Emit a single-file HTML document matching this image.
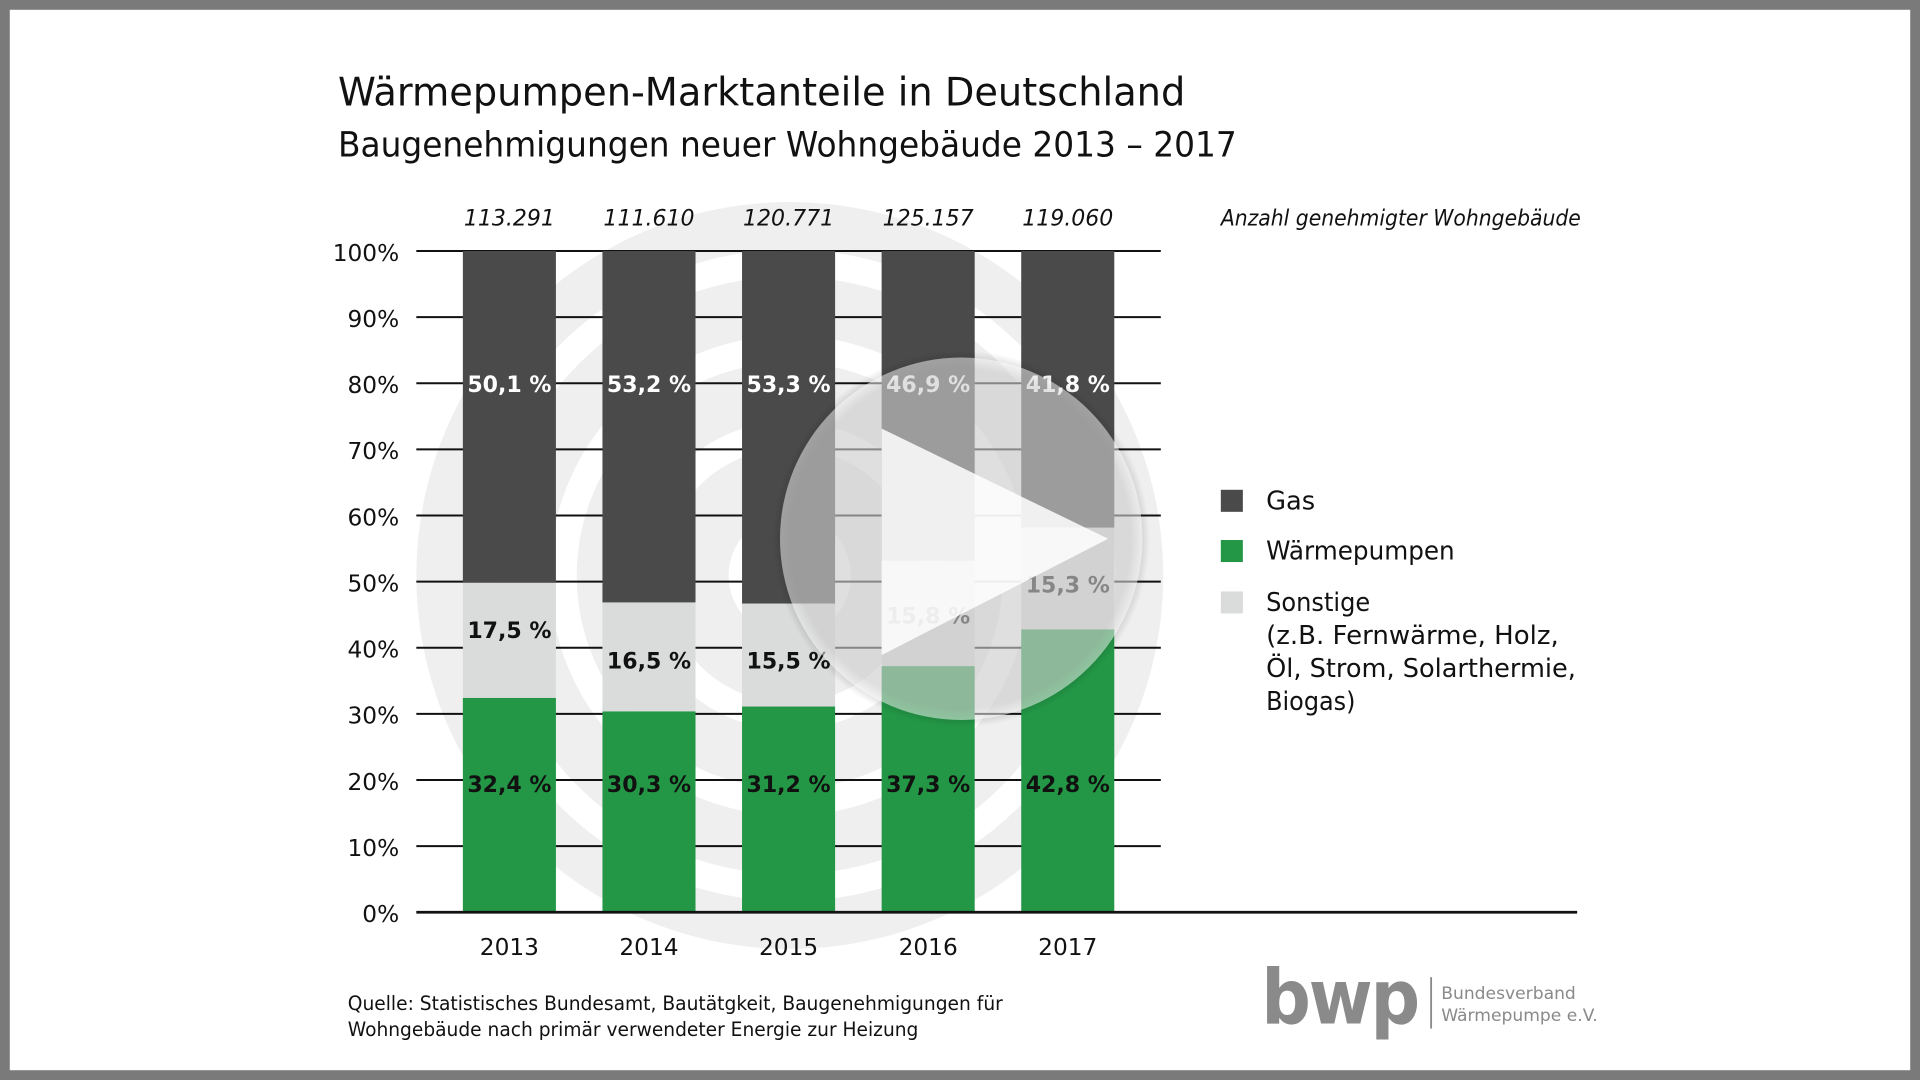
<!DOCTYPE html>
<html><head><meta charset="utf-8"><style>
html,body{margin:0;padding:0;background:#7a7a7a;}
svg{display:block;font-family:"DejaVu Sans","Liberation Sans",sans-serif;}
</style></head><body>
<svg width="1920" height="1080" viewBox="0 0 1568 882" xmlns="http://www.w3.org/2000/svg">
<defs>
<radialGradient id="sh" cx="0.5" cy="0.5" r="0.5">
<stop offset="0.9" stop-color="#000" stop-opacity="0.25"/>
<stop offset="1" stop-color="#000" stop-opacity="0"/>
</radialGradient>
</defs>
<rect x="0" y="0" width="1568" height="882" fill="#7a7a7a"/>
<rect x="8" y="8" width="1552" height="866" fill="#fff"/>
<g>
<circle cx="645" cy="470" r="305" fill="#efefef"/>
<circle cx="645" cy="470" r="255" fill="none" stroke="#fff" stroke-width="22"/>
<circle cx="645" cy="470" r="185" fill="none" stroke="#fff" stroke-width="22"/>
<circle cx="645" cy="470" r="115" fill="none" stroke="#fff" stroke-width="22"/>
<circle cx="645" cy="470" r="50" fill="#fff"/>
</g>
<g stroke="#111" stroke-width="1.6">
<line x1="340" y1="205" x2="948" y2="205"/>
<line x1="340" y1="259" x2="948" y2="259"/>
<line x1="340" y1="313" x2="948" y2="313"/>
<line x1="340" y1="367" x2="948" y2="367"/>
<line x1="340" y1="421" x2="948" y2="421"/>
<line x1="340" y1="475" x2="948" y2="475"/>
<line x1="340" y1="529" x2="948" y2="529"/>
<line x1="340" y1="583" x2="948" y2="583"/>
<line x1="340" y1="637" x2="948" y2="637"/>
<line x1="340" y1="691" x2="948" y2="691"/>
</g>
<g>
<rect x="378" y="205" width="76" height="271" fill="#4a4a4a"/>
<rect x="378" y="476" width="76" height="94" fill="#dadcdb"/>
<rect x="378" y="570" width="76" height="175" fill="#239746"/>
<rect x="492" y="205" width="76" height="287" fill="#4a4a4a"/>
<rect x="492" y="492" width="76" height="89" fill="#dadcdb"/>
<rect x="492" y="581" width="76" height="164" fill="#239746"/>
<rect x="606" y="205" width="76" height="288" fill="#4a4a4a"/>
<rect x="606" y="493" width="76" height="84" fill="#dadcdb"/>
<rect x="606" y="577" width="76" height="168" fill="#239746"/>
<rect x="720" y="205" width="76" height="253" fill="#4a4a4a"/>
<rect x="720" y="458" width="76" height="86" fill="#dadcdb"/>
<rect x="720" y="544" width="76" height="201" fill="#239746"/>
<rect x="834" y="205" width="76" height="226" fill="#4a4a4a"/>
<rect x="834" y="431" width="76" height="83" fill="#dadcdb"/>
<rect x="834" y="514" width="76" height="231" fill="#239746"/>
</g>
<line x1="340" y1="745" x2="1288" y2="745" stroke="#111" stroke-width="2.2"/>
<g font-size="18" font-weight="bold" text-anchor="middle" fill="#fff">
<text x="416" y="320">50,1 %</text>
<text x="530" y="320">53,2 %</text>
<text x="644" y="320">53,3 %</text>
<text x="758" y="320">46,9 %</text>
<text x="872" y="320">41,8 %</text>
</g>
<g font-size="18" font-weight="bold" text-anchor="middle" fill="#111">
<text x="416" y="521">17,5 %</text>
<text x="530" y="546">16,5 %</text>
<text x="644" y="546">15,5 %</text>
<text x="758" y="509">15,8 %</text>
<text x="872" y="484">15,3 %</text>
<text x="416" y="647">32,4 %</text>
<text x="530" y="647">30,3 %</text>
<text x="644" y="647">31,2 %</text>
<text x="758" y="647">37,3 %</text>
<text x="872" y="647">42,8 %</text>
</g>
<circle cx="785" cy="440" r="154" fill="url(#sh)"/>
<circle cx="785" cy="440" r="148" fill="#fff" fill-opacity="0.5"/>
<polygon points="720,350 905,440 720,535" fill="#fff" fill-opacity="0.85"/>
<g font-size="19" text-anchor="end" fill="#111">
<text x="326" y="213">100%</text>
<text x="326" y="267">90%</text>
<text x="326" y="321">80%</text>
<text x="326" y="375">70%</text>
<text x="326" y="429">60%</text>
<text x="326" y="483">50%</text>
<text x="326" y="537">40%</text>
<text x="326" y="591">30%</text>
<text x="326" y="645">20%</text>
<text x="326" y="699">10%</text>
<text x="326" y="753">0%</text>
</g>
<g font-size="19" text-anchor="middle" fill="#111">
<text x="416" y="780">2013</text>
<text x="530" y="780">2014</text>
<text x="644" y="780">2015</text>
<text x="758" y="780">2016</text>
<text x="872" y="780">2017</text>
</g>
<g font-size="18" font-style="italic" text-anchor="middle" fill="#111">
<text x="416" y="184">113.291</text>
<text x="530" y="184">111.610</text>
<text x="644" y="184">120.771</text>
<text x="758" y="184">125.157</text>
<text x="872" y="184">119.060</text>
<text x="1144" y="184" textLength="294" lengthAdjust="spacingAndGlyphs">Anzahl genehmigter Wohngebäude</text>
</g>
<text x="276" y="86" font-size="32" fill="#111" textLength="692" lengthAdjust="spacingAndGlyphs">Wärmepumpen-Marktanteile in Deutschland</text>
<text x="276" y="128" font-size="28" fill="#111" textLength="734" lengthAdjust="spacingAndGlyphs">Baugenehmigungen neuer Wohngebäude 2013 – 2017</text>
<rect x="997" y="400" width="18" height="18" fill="#4a4a4a"/>
<rect x="997" y="441" width="18" height="18" fill="#239746"/>
<rect x="997" y="483" width="18" height="18" fill="#dadcdb"/>
<g font-size="21" fill="#111">
<text x="1034" y="416">Gas</text>
<text x="1034" y="457" textLength="154" lengthAdjust="spacingAndGlyphs">Wärmepumpen</text>
<text x="1034" y="499" textLength="85" lengthAdjust="spacingAndGlyphs">Sonstige</text>
<text x="1034" y="526" textLength="239" lengthAdjust="spacingAndGlyphs">(z.B. Fernwärme, Holz,</text>
<text x="1034" y="553" textLength="253" lengthAdjust="spacingAndGlyphs">Öl, Strom, Solarthermie,</text>
<text x="1034" y="580" textLength="73" lengthAdjust="spacingAndGlyphs">Biogas)</text>
</g>
<g font-size="16" fill="#111">
<text x="284" y="825" textLength="535" lengthAdjust="spacingAndGlyphs">Quelle: Statistisches Bundesamt, Bautätgkeit, Baugenehmigungen für</text>
<text x="284" y="846" textLength="466" lengthAdjust="spacingAndGlyphs">Wohngebäude nach primär verwendeter Energie zur Heizung</text>
</g>
<g fill="#8a8a8a">
<text x="1030" y="836" font-size="62" font-weight="bold" letter-spacing="-2" textLength="128" lengthAdjust="spacingAndGlyphs">bwp</text>
<rect x="1168" y="798" width="1.5" height="42"/>
<text x="1177" y="816" font-size="14">Bundesverband</text>
<text x="1177" y="834" font-size="14">Wärmepumpe e.V.</text>
</g>
</svg>
</body></html>
